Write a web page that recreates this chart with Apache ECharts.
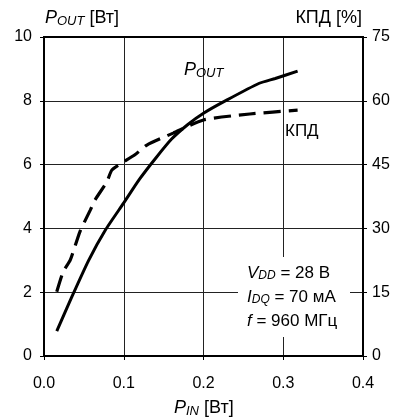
<!DOCTYPE html>
<html>
<head>
<meta charset="utf-8">
<script src="https://cdn.jsdelivr.net/npm/echarts@6/dist/echarts.min.js"></script>
<style>
html,body{margin:0;padding:0;background:#fff;}
#chart{width:401px;height:419px;}
</style>
</head>
<body>
<div id="chart"></div>
<script>
// P_OUT [W] vs P_IN [W]
var poutX = [0.016, 0.035, 0.056, 0.077, 0.100, 0.120, 0.140, 0.160, 0.180, 0.200, 0.229, 0.270, 0.290, 0.318];
var poutY = [0.78, 1.86, 3.00, 3.95, 4.80, 5.55, 6.20, 6.80, 7.25, 7.61, 8.02, 8.55, 8.70, 8.93];
// Efficiency [%] vs P_IN [W]
var effX = [0.016, 0.024, 0.033, 0.045, 0.058, 0.064, 0.079, 0.085, 0.097, 0.114, 0.129, 0.162, 0.200, 0.258, 0.318];
var effY = [15.1, 19.8, 22.6, 29.2, 34.3, 36.7, 41.0, 43.7, 45.3, 47.3, 49.6, 52.4, 55.5, 56.9, 57.8];
var xTicks = [0, 0.1, 0.2, 0.3, 0.4];
var leftTicks = [0, 2, 4, 6, 8, 10];
var rightTicks = [0, 15, 30, 45, 60, 75];

function pairs(xs, ys){ return xs.map(function(x,i){ return [x, ys[i]]; }); }

var FONT = 'Liberation Sans, Arial, sans-serif';
var chart = echarts.init(document.getElementById('chart'));
var subRich = {
  p: {fontStyle: 'italic', fontSize: 18, fontFamily: FONT},
  s: {fontStyle: 'italic', fontSize: 13, fontFamily: FONT, padding: [7, 0, 0, 0]},
  n: {fontSize: 18, fontFamily: FONT}
};
chart.setOption({
  animation: false,
  backgroundColor: '#fff',
  grid: {left: 44, right: 38, top: 37, bottom: 63, show: true, borderColor: '#000', borderWidth: 2, z: 5},
  xAxis: {
    type: 'value', min: xTicks[0], max: xTicks[xTicks.length-1], interval: 0.1,
    axisLine: {show: true, lineStyle: {color: '#000', width: 2}},
    axisTick: {show: true, inside: false, length: 4, lineStyle: {color: '#000', width: 1}},
    axisLabel: {margin: 20, color: '#000', fontSize: 16, fontFamily: FONT, formatter: function(v){ return v.toFixed(1); }},
    splitLine: {show: true, lineStyle: {color: '#222', width: 1}}
  },
  yAxis: [{
    type: 'value', position: 'left', min: leftTicks[0], max: leftTicks[leftTicks.length-1], interval: 2,
    axisLine: {show: true, lineStyle: {color: '#000', width: 2}},
    axisTick: {show: true, inside: false, length: 4, lineStyle: {color: '#000', width: 1}},
    axisLabel: {margin: 12, color: '#000', fontSize: 16, fontFamily: FONT},
    splitLine: {show: true, lineStyle: {color: '#222', width: 1}}
  }, {
    type: 'value', position: 'right', min: rightTicks[0], max: rightTicks[rightTicks.length-1], interval: 15,
    axisLine: {show: true, lineStyle: {color: '#000', width: 2}},
    axisTick: {show: true, inside: false, length: 4, lineStyle: {color: '#000', width: 1}},
    axisLabel: {margin: 9, color: '#000', fontSize: 16, fontFamily: FONT},
    splitLine: {show: false}
  }],
  series: [{
    type: 'line', name: 'POUT', yAxisIndex: 0, data: pairs(poutX, poutY),
    showSymbol: false, smooth: 0.2, z: 3,
    lineStyle: {color: '#000', width: 3}
  }, {
    type: 'line', name: 'КПД', yAxisIndex: 1, data: pairs(effX, effY),
    showSymbol: false, smooth: 0.2, z: 3,
    lineStyle: {color: '#000', width: 3.2, type: [17, 8]}
  }],
  graphic: [
    {type: 'text', left: 45, top: 9, z: 10, style: {
      text: '{p|P}{s|OUT}{n| [Вт]}', fill: '#000', rich: subRich
    }},
    {type: 'text', right: 39, top: 9, z: 10, style: {
      text: 'КПД [%]', fill: '#000', font: '18px ' + FONT
    }},
    {type: 'text', left: 174, top: 399, z: 10, style: {
      text: '{p|P}{s|IN}{n| [Вт]}', fill: '#000', rich: subRich
    }},
    {type: 'text', left: 184, top: 61, z: 10, style: {
      text: '{p|P}{s|OUT}', fill: '#000', rich: subRich
    }},
    {type: 'text', left: 285, top: 123, z: 10, style: {
      text: 'КПД', fill: '#000', font: '17px ' + FONT
    }},
    {type: 'rect', left: 238, top: 257, z: 8, shape: {width: 112, height: 80}, style: {fill: '#fff'}},
    {type: 'text', left: 247, top: 261, z: 10, style: {
      text: '{p|V}{s|DD}{n| = 28 В}\n{p|I}{s|DQ}{n| = 70 мА}\n{p|f}{n| = 960 МГц}', fill: '#000',
      lineHeight: 24,
      rich: {p: {fontStyle: 'italic', fontSize: 17, fontFamily: FONT, lineHeight: 24},
             s: {fontStyle: 'italic', fontSize: 12, fontFamily: FONT, padding: [6, 0, 0, 0], lineHeight: 24},
             n: {fontSize: 17, fontFamily: FONT, lineHeight: 24}}
    }}
  ]
});
</script>
</body>
</html>
